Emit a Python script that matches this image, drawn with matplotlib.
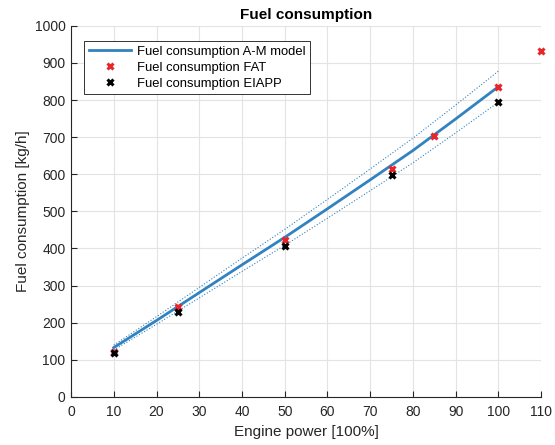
import matplotlib
matplotlib.use("Agg")
import matplotlib.pyplot as plt

plt.rcParams['font.family'] = ['Liberation Sans', 'DejaVu Sans']

# Data
model_power = [10, 20, 30, 40, 50, 60, 70, 80, 90, 100]
model_fuel = [133, 206, 281, 356, 430, 507, 585, 664, 749, 836]
tolerance = 0.05

fat_power = [10, 25, 50, 75, 85, 100, 110]
fat_fuel = [120, 243, 424, 615, 702, 836, 931]

eiapp_power = [10, 25, 50, 75, 100]
eiapp_fuel = [119, 228, 407, 597, 795]

x_ticks = list(range(0, 111, 10))
y_ticks = list(range(0, 1001, 100))

blue = '#3182c0'
red = '#e8262a'
txt = '#262626'

fig = plt.figure(figsize=(5.55, 4.45), dpi=100)
ax = fig.add_axes([0.128, 0.108, 0.847, 0.834])

upper = [v * (1 + tolerance) for v in model_fuel]
lower = [v * (1 - tolerance) for v in model_fuel]
ax.plot(model_power, upper, ':', color=blue, lw=0.8)
ax.plot(model_power, lower, ':', color=blue, lw=0.8)
ax.plot(model_power, model_fuel, '-', color=blue, lw=2.0, label='Fuel consumption A-M model')
ax.plot(fat_power, fat_fuel, 'x', color=red, ms=5, mew=2.2, ls='none',
        label='Fuel consumption FAT', clip_on=False, zorder=4)
ax.plot(eiapp_power, eiapp_fuel, 'x', color='black', ms=5, mew=2.2, ls='none',
        label='Fuel consumption EIAPP', zorder=5)

handles, labels = ax.get_legend_handles_labels()
leg = ax.legend(handles, labels, loc='upper left', bbox_to_anchor=(0.02, 0.97),
                fontsize=9.4, frameon=True, fancybox=False, edgecolor='#333333',
                framealpha=1, handlelength=3.2, borderpad=0.35, labelspacing=0.3,
                handletextpad=0.45, borderaxespad=0.3)
leg.get_frame().set_linewidth(0.7)

ax.set_xlim(0, 110)
ax.set_ylim(0, 1000)
ax.set_xticks(x_ticks)
ax.set_yticks(y_ticks)
ax.grid(True, color='#e3e3e3', lw=0.8)
ax.set_axisbelow(True)
for s in ['top', 'right']:
    ax.spines[s].set_visible(False)
for s in ['left', 'bottom']:
    ax.spines[s].set_color(txt)
    ax.spines[s].set_linewidth(0.8)
ax.tick_params(direction='in', length=4, width=0.8, colors=txt, labelsize=10)
ax.tick_params(axis='x', pad=6)
ax.tick_params(axis='y', pad=4)

ax.set_xlabel('Engine power [100%]', fontsize=11, color=txt, labelpad=4)
ax.set_ylabel('Fuel consumption [kg/h]', fontsize=11, color=txt, labelpad=3)
ax.set_title('Fuel consumption', fontsize=11, fontweight='bold', color='black', pad=5)

fig.savefig('out.png', dpi=100)
